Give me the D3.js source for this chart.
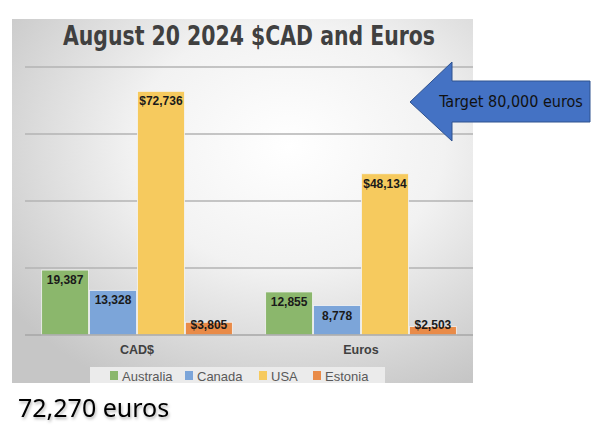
<!DOCTYPE html>
<meta charset="utf-8">
<style>
body { margin: 0; background: #fff; }
text { font-family: "Liberation Sans", Arial, sans-serif; }
</style>
<svg width="600" height="442"></svg>
<script src="https://d3js.org/d3.v7.min.js"></script>
<script>

var categories = ["CAD$", "Euros"];
var series = ["Australia", "Canada", "USA", "Estonia"];
var colors = ["#8bb76c", "#7ca5d9", "#f6ca5e", "#e98b48"];
var australia = [19387, 12855];
var canada = [13328, 8778];
var usa = [72736, 48134];
var estonia = [3805, 2503];
var labels = [
    ["19,387", "13,328", "$72,736", "$3,805"],
    ["12,855", "8,778", "$48,134", "$2,503"]
];
var yTicks = [0, 20000, 40000, 60000, 80000];

var values = [australia, canada, usa, estonia];

var svg = d3.select("svg");

var defs = svg.append("defs");
var grad = defs.append("radialGradient")
    .attr("id", "bg")
    .attr("cx", "0.6").attr("cy", "0.35").attr("r", "0.75");
grad.append("stop").attr("offset", "0").attr("stop-color", "#ffffff");
grad.append("stop").attr("offset", "0.45").attr("stop-color", "#f2f2f2");
grad.append("stop").attr("offset", "1").attr("stop-color", "#c6c6c6");

var shadow = defs.append("filter").attr("id", "shadow")
    .attr("x", "-10%").attr("y", "-20%").attr("width", "130%").attr("height", "160%");
shadow.append("feDropShadow").attr("dx", 1).attr("dy", 2)
    .attr("stdDeviation", 1.5).attr("flood-color", "#000").attr("flood-opacity", 0.3);

// chart box
svg.append("rect")
    .attr("x", 12).attr("y", 19)
    .attr("width", 461).attr("height", 364)
    .attr("fill", "url(#bg)");

svg.append("text")
    .attr("x", 249).attr("y", 45)
    .attr("text-anchor", "middle")
    .attr("font-size", 27)
    .attr("font-weight", "bold")
    .attr("fill", "#404040")
    .attr("textLength", 372)
    .attr("lengthAdjust", "spacingAndGlyphs")
    .style("font-family", "\"DejaVu Sans\", sans-serif")
    .text("August 20 2024 $CAD and Euros");

var y = d3.scaleLinear().domain([0, 80000]).range([335, 67]);

var x0 = d3.scaleBand().domain(categories).range([25, 473])
    .paddingInner(0.14).paddingOuter(0.07);
var x1 = d3.scaleBand().domain(series).range([0, x0.bandwidth()]).padding(0.02);

svg.append("g").selectAll("line")
    .data(yTicks.slice(1))
    .enter().append("line")
    .attr("x1", 25).attr("x2", 473)
    .attr("y1", function (d) { return y(d); })
    .attr("y2", function (d) { return y(d); })
    .attr("stroke", "#b3b3b3")
    .attr("stroke-width", 1.5);

var groups = svg.append("g").selectAll("g")
    .data(categories)
    .enter().append("g")
    .attr("transform", function (d) { return "translate(" + x0(d) + ",0)"; });

function barData(c, ci) {
    return series.map(function (s, si) {
        return { s: s, si: si, v: values[si][ci], label: labels[ci][si] };
    });
}

groups.selectAll("rect")
    .data(barData)
    .enter().append("rect")
    .attr("x", function (d) { return x1(d.s); })
    .attr("y", function (d) { return y(d.v); })
    .attr("width", x1.bandwidth())
    .attr("height", function (d) { return y(0) - y(d.v); })
    .attr("fill", function (d) { return colors[d.si]; })
    .attr("stroke", "#f4f4f4")
    .attr("stroke-width", 0.8);

groups.selectAll("text")
    .data(barData)
    .enter().append("text")
    .attr("x", function (d) { return x1(d.s) + x1.bandwidth() / 2; })
    .attr("y", function (d) { return Math.min(y(d.v) + 14, y(0) - 6); })
    .attr("text-anchor", "middle")
    .attr("font-size", 12)
    .attr("font-weight", "bold")
    .attr("fill", "#1a1a1a")
    .text(function (d) { return d.label; });

// baseline
svg.append("line")
    .attr("x1", 25).attr("x2", 473)
    .attr("y1", y(0)).attr("y2", y(0))
    .attr("stroke", "#a6a6a6").attr("stroke-width", 1.5);

var xAxis = svg.append("g")
    .attr("transform", "translate(0," + y(0) + ")")
    .call(d3.axisBottom(x0).tickSize(0).tickPadding(10));
xAxis.select(".domain").remove();
xAxis.selectAll("text")
    .attr("font-size", 12.5)
    .attr("font-weight", "bold")
    .attr("fill", "#404040")
    .style("font-family", "\"Liberation Sans\", Arial, sans-serif");

// legend
svg.append("rect")
    .attr("x", 90).attr("y", 367)
    .attr("width", 295).attr("height", 16)
    .attr("fill", "#ebebeb");

var legendX = [110, 185, 259, 313];
var legend = svg.append("g").selectAll("g")
    .data(series)
    .enter().append("g")
    .attr("transform", function (d, i) { return "translate(" + legendX[i] + ",371)"; });
legend.append("rect")
    .attr("width", 8).attr("height", 9)
    .attr("fill", function (d, i) { return colors[i]; });
legend.append("text")
    .attr("x", 12).attr("y", 9.5)
    .attr("font-size", 13)
    .attr("fill", "#595959")
    .text(function (d) { return d; });

// arrow callout
var arrowPts = [[410, 102], [452, 62], [452, 81], [590, 81], [590, 122], [452, 122], [452, 141]];
svg.append("path")
    .attr("d", d3.line()(arrowPts) + "Z")
    .attr("fill", "#4472c4")
    .attr("stroke", "#2f528f")
    .attr("stroke-width", 1);
svg.append("text")
    .attr("x", 511).attr("y", 107)
    .attr("text-anchor", "middle")
    .attr("font-size", 16)
    .attr("fill", "#111")
    .style("font-family", "\"DejaVu Sans\", sans-serif")
    .style("font-stretch", "condensed")
    .text("Target 80,000 euros");

svg.append("text")
    .attr("x", 18).attr("y", 417)
    .attr("font-size", 25)
    .attr("fill", "#000")
    .attr("filter", "url(#shadow)")
    .style("font-family", "\"Noto Sans\", sans-serif")
    .text("72,270 euros");

</script>
